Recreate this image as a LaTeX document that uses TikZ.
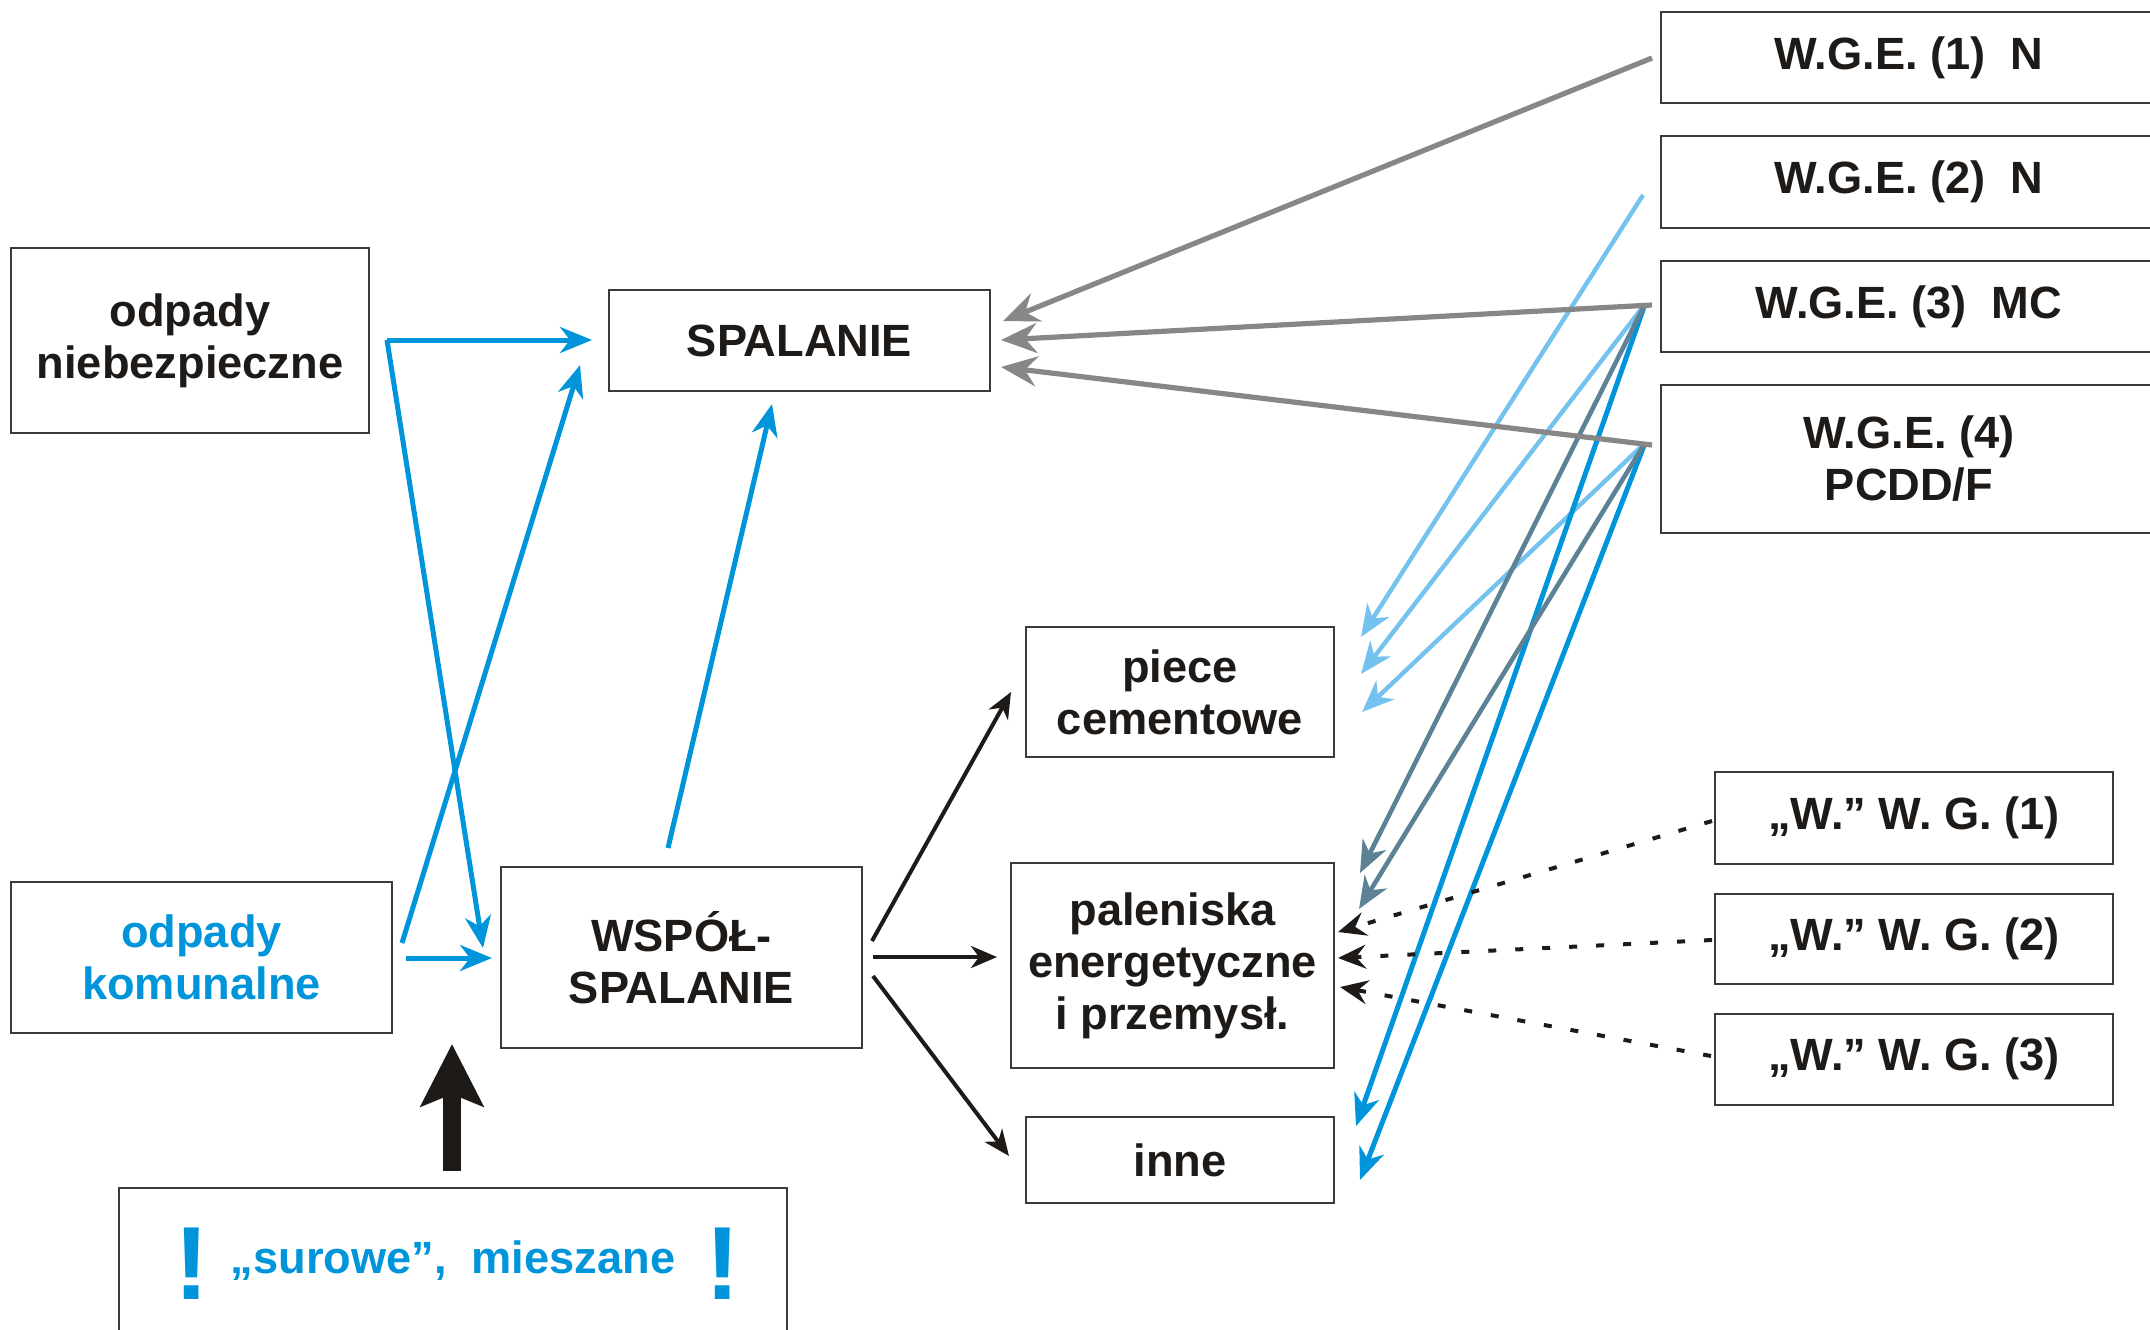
\documentclass[tikz,border=0pt]{standalone}
\usepackage{fontspec}
\setmainfont{Liberation Sans}
\usetikzlibrary{arrows.meta}
\definecolor{cblue}{HTML}{0095DA}
\definecolor{clight}{HTML}{74C2EE}
\definecolor{cgray}{HTML}{878787}
\definecolor{cslate}{HTML}{5E8295}
\definecolor{cblack}{HTML}{1E1A17}
\definecolor{cbox}{HTML}{3C3A38}
\newcommand\boxfont{\fontsize{22.6}{26}\selectfont\bfseries}
\newcommand\bangfont{\fontsize{52}{52}\selectfont\bfseries}
\tikzset{
  box/.style={draw=cbox, line width=1pt, align=center, inner sep=0pt, font=\boxfont, text=cblack},
  grayarr/.style={draw=cgray, line width=2.6pt, -{Stealth[length=18pt,width=15pt,inset=6pt]}},
  bluearr/.style={draw=cblue, line width=2.5pt, -{Stealth[length=16pt,width=13pt,inset=5pt]}},
  lightarr/.style={draw=clight, line width=2.2pt, -{Stealth[length=16pt,width=13pt,inset=5pt]}},
  slatearr/.style={draw=cslate, line width=2.3pt, -{Stealth[length=16pt,width=13pt,inset=5pt]}},
  blackarr/.style={draw=cblack, line width=2pt, -{Stealth[length=13pt,width=11pt,inset=4pt]}},
  dotarr/.style={draw=cblack, line width=2pt, dash pattern=on 4pt off 9.5pt, -{Stealth[length=14pt,width=12pt,inset=5pt]}},
  bigarr/.style={draw=cblack, line width=9pt, -{Stealth[length=31pt,width=31pt,inset=6pt]}}
}
\begin{document}
\begin{tikzpicture}[x=0.5pt,y=-0.5pt]
\useasboundingbox (0,0) rectangle (2150,1329);
\clip (0,0) rectangle (2150,1329);

% boxes
\node[box, minimum width=179pt, minimum height=92.5pt] (nieb) at (190,340.5) {odpady\\niebezpieczne};
\node[box, minimum width=190.5pt, minimum height=50.5pt] (spal) at (799.5,340.5) {SPALANIE};
\node[box, minimum width=190.5pt, minimum height=75.5pt, text=cblue] (kom) at (201.5,957.5) {odpady\\komunalne};
\node[box, minimum width=180.5pt, minimum height=90.5pt] (wsp) at (681.5,957.5) {WSPÓŁ-\\SPALANIE};
\node[box, minimum width=154pt, minimum height=65pt] (piece) at (1180,692) {piece\\cementowe};
\node[box, minimum width=161.5pt, minimum height=102.5pt] (pal) at (1172.5,965.5) {paleniska\\energetyczne\\i przemysł.};
\node[box, minimum width=154pt, minimum height=43pt] (inne) at (1180,1160) {inne};

\node[box, minimum width=248pt, minimum height=45.5pt] (wge1) at (1909,57.5) {W.G.E. (1)\ \ N};
\node[box, minimum width=248pt, minimum height=46pt] (wge2) at (1909,182) {W.G.E. (2)\ \ N};
\node[box, minimum width=248pt, minimum height=45.5pt] (wge3) at (1909,306.5) {W.G.E. (3)\ \ MC};
\node[box, minimum width=248pt, minimum height=74pt] (wge4) at (1909,459) {W.G.E. (4)\\PCDD/F};

\node[box, minimum width=199pt, minimum height=46pt] (wg1) at (1914,818) {„W.” W. G. (1)};
\node[box, minimum width=199pt, minimum height=45pt] (wg2) at (1914,938.5) {„W.” W. G. (2)};
\node[box, minimum width=199pt, minimum height=45.5pt] (wg3) at (1914,1059) {„W.” W. G. (3)};

\node[box, minimum width=334pt, minimum height=76pt] (bot) at (453,1264) {};
\node[anchor=base, inner sep=0pt, font=\boxfont, text=cblue] (sur) at (453,1273) {„surowe”,\ \ mieszane};
\node[anchor=base, inner sep=0pt, font=\bangfont, text=cblue] (bang1) at (192,1299) {!};
\node[anchor=base, inner sep=0pt, font=\bangfont, text=cblue] (bang2) at (723,1299) {!};

% coordinates
\coordinate (nbout) at (387,340);
\coordinate (spalIn1) at (592,340);
\coordinate (wspIn1) at (483,948);
\coordinate (komout1) at (402,943);
\coordinate (spalIn2) at (580,365);
\coordinate (komout2) at (406,958);
\coordinate (wspIn2) at (492,958);
\coordinate (wspTop) at (668,848);
\coordinate (spalBot) at (772,404);
\coordinate (wspR1) at (872,941);
\coordinate (pieceIn) at (1011,692);
\coordinate (wspR2) at (873,957);
\coordinate (palIn) at (997,957);
\coordinate (wspR3) at (873,976);
\coordinate (inneIn) at (1009,1156);
\coordinate (botTop) at (452,1171);
\coordinate (wspBot) at (452,1044);

\coordinate (g1s) at (1652,58);
\coordinate (g3s) at (1652,305);
\coordinate (g4s) at (1652,445);
\coordinate (spalR1) at (1003,321);
\coordinate (spalR2) at (1001,340);
\coordinate (spalR3) at (1001,367);

\coordinate (f2) at (1643,195);
\coordinate (f3) at (1645,304);
\coordinate (f4) at (1645,443);
\coordinate (pi1) at (1361,637);
\coordinate (pi2) at (1361,674);
\coordinate (pi3) at (1362,712);
\coordinate (pa1) at (1360,873);
\coordinate (pa2) at (1359,909);
\coordinate (in1) at (1356,1126);
\coordinate (in2) at (1360,1180);

\coordinate (d1s) at (1712,821);
\coordinate (d2s) at (1712,940);
\coordinate (d3s) at (1711,1056);
\coordinate (pd1) at (1338,932);
\coordinate (pd2) at (1338,958);
\coordinate (pd3) at (1340,987);

% left blue arrows
\draw[bluearr] (nbout) -- (spalIn1);
\draw[bluearr] (nbout) -- (wspIn1);
\draw[bluearr] (komout1) -- (spalIn2);
\draw[bluearr] (komout2) -- (wspIn2);
\draw[bluearr] (wspTop) -- (spalBot);

% black arrows
\draw[blackarr] (wspR1) -- (pieceIn);
\draw[blackarr] (wspR2) -- (palIn);
\draw[blackarr] (wspR3) -- (inneIn);
\draw[bigarr] (botTop) -- (wspBot);

% fan from W.G.E.
\draw[lightarr] (f2) -- (pi1);
\draw[lightarr] (f3) -- (pi2);
\draw[lightarr] (f4) -- (pi3);
\draw[bluearr] (f3) -- (in1);
\draw[bluearr] (f4) -- (in2);
\draw[slatearr] (f3) -- (pa1);
\draw[slatearr] (f4) -- (pa2);

% gray arrows
\draw[grayarr] (g1s) -- (spalR1);
\draw[grayarr] (g3s) -- (spalR2);
\draw[grayarr] (g4s) -- (spalR3);

% dotted arrows
\draw[dotarr] (d1s) -- (pd1);
\draw[dotarr] (d2s) -- (pd2);
\draw[dotarr] (d3s) -- (pd3);
\end{tikzpicture}
\end{document}
